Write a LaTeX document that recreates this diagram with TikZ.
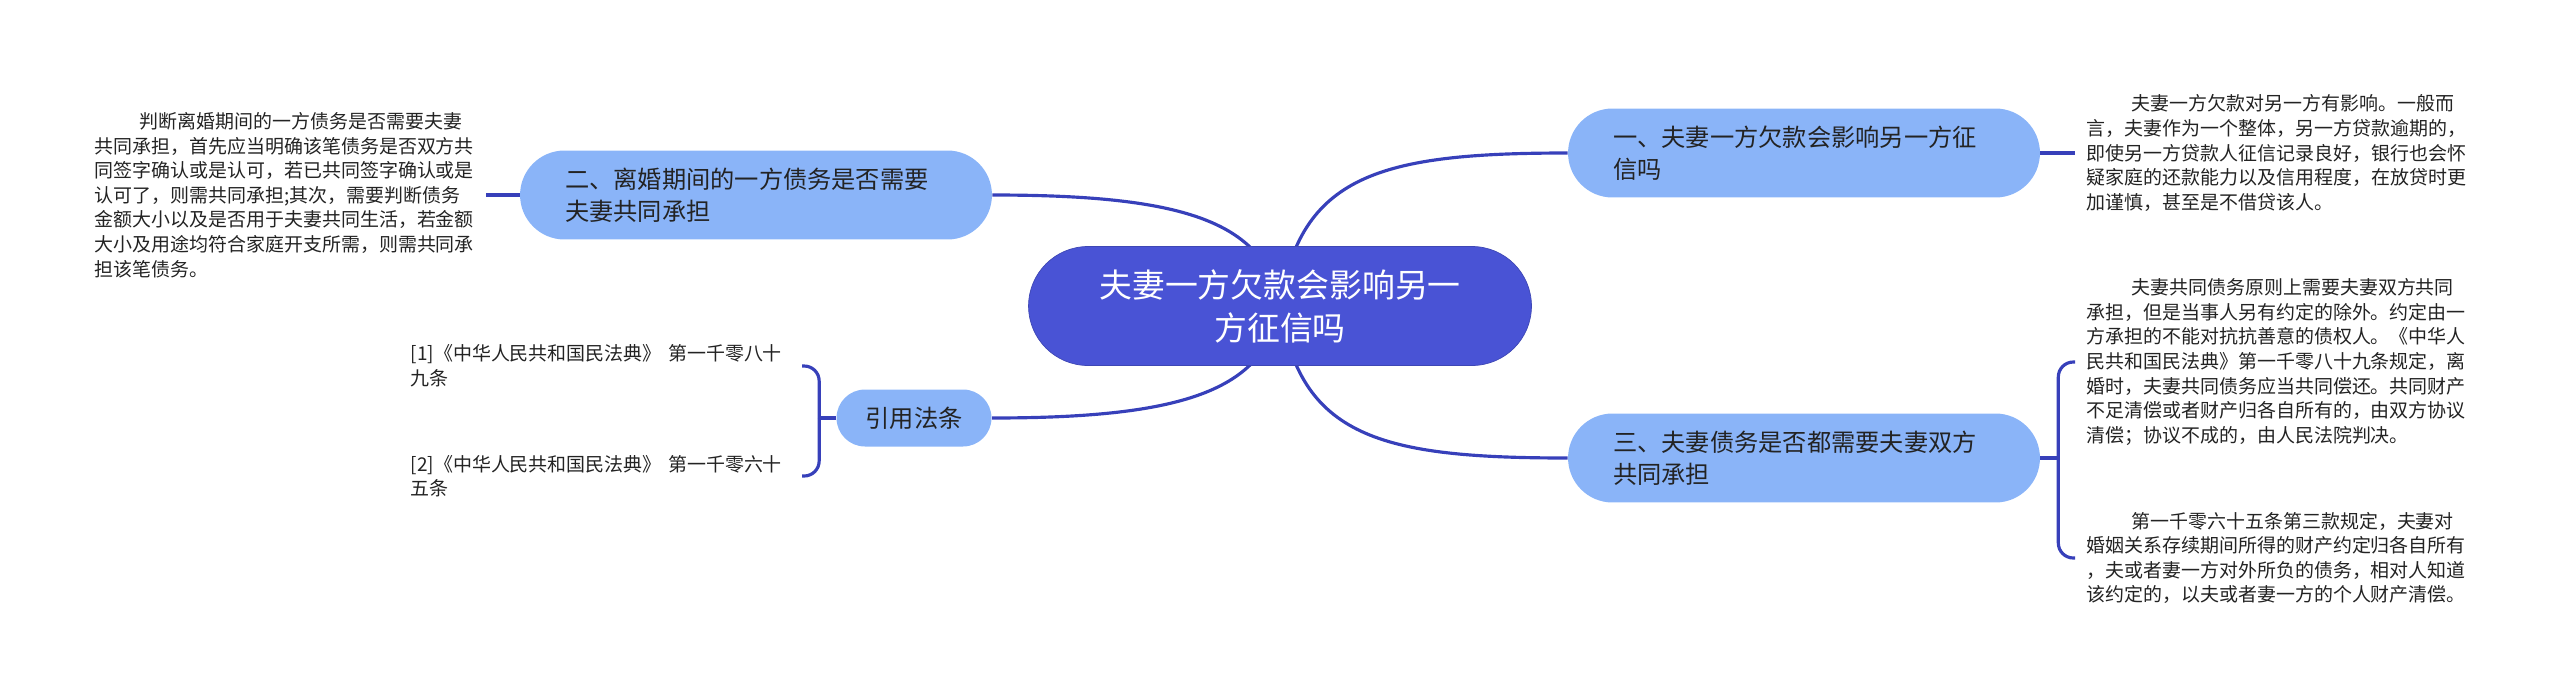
\documentclass[tikz,border=0pt]{standalone}
\usepackage{fontspec}
\newfontfamily\cjk{Noto Sans CJK SC}
\usetikzlibrary{positioning,backgrounds}

\definecolor{raizazul}{RGB}{73,83,213}
\definecolor{ramaazul}{RGB}{138,180,248}
\definecolor{lineaazul}{RGB}{55,64,186}
\definecolor{textogris}{RGB}{35,35,35}

\tikzset{
  raiz/.style={rounded corners=1.19cm, fill=raizazul, draw=raizazul!85!black, line width=0.4pt,
    text=white, align=center, text width=7.3cm, inner xsep=1.38cm, minimum height=2.38cm,
    font=\cjk\fontsize{18.7pt}{24.5pt}\selectfont},
  rama/.style={rounded corners=0.89cm, fill=ramaazul, text=textogris, align=left,
    text width=7.64cm, inner xsep=0.9cm, minimum height=1.78cm,
    font=\cjk\fontsize{13.8pt}{18.2pt}\selectfont},
  ramacorta/.style={rounded corners=0.57cm, fill=ramaazul, text=textogris,
    inner xsep=0.58cm, minimum height=1.14cm, font=\cjk\fontsize{13.8pt}{18.2pt}\selectfont},
  hoja/.style={align=left, text width=7.6cm, inner xsep=0.22cm, text=textogris,
    font=\cjk\fontsize{10.8pt}{14pt}\selectfont},
  enlace/.style={draw=lineaazul, line width=1.8pt},
}

\begin{document}
\begin{tikzpicture}[x=0.02cm, y=-0.02cm]
  \useasboundingbox (0,0) rectangle (2560,697);

  % Nodos principales
  \node[raiz] (raiz) at (1280,306) {夫妻一方欠款会影响另一\\方征信吗};
  \node[rama] (r1) at (1804,153) {一、夫妻一方欠款会影响另一方征\\信吗};
  \node[rama] (r2) at (756,195) {二、离婚期间的一方债务是否需要\\夫妻共同承担};
  \node[rama] (r3) at (1804,458) {三、夫妻债务是否都需要夫妻双方\\共同承担};
  \node[ramacorta] (r4) at (914,418) {引用法条};

  % Hojas
  \node[hoja, right=0.7cm of r1] (h1) {\hspace*{0.9cm}夫妻一方欠款对另一方有影响。一般而\\
    言，夫妻作为一个整体，另一方贷款逾期的，\\
    即使另一方贷款人征信记录良好，银行也会怀\\
    疑家庭的还款能力以及信用程度，在放贷时更\\
    加谨慎，甚至是不借贷该人。};
  \node[hoja, left=0.68cm of r2] (h2) {\hspace*{0.9cm}判断离婚期间的一方债务是否需要夫妻\\
    共同承担，首先应当明确该笔债务是否双方共\\
    同签字确认或是认可，若已共同签字确认或是\\
    认可了，则需共同承担;其次，需要判断债务\\
    金额大小以及是否用于夫妻共同生活，若金额\\
    大小及用途均符合家庭开支所需，则需共同承\\
    担该笔债务。};
  \node[hoja, anchor=west] (h3a) at (2075,362) {\hspace*{0.9cm}夫妻共同债务原则上需要夫妻双方共同\\
    承担，但是当事人另有约定的除外。约定由一\\
    方承担的不能对抗抗善意的债权人。《中华人\\
    民共和国民法典》第一千零八十九条规定，离\\
    婚时，夫妻共同债务应当共同偿还。共同财产\\
    不足清偿或者财产归各自所有的，由双方协议\\
    清偿；协议不成的，由人民法院判决。};
  \node[hoja, anchor=west] (h3b) at (2075,558) {\hspace*{0.9cm}第一千零六十五条第三款规定，夫妻对\\
    婚姻关系存续期间所得的财产约定归各自所有\\
    ，夫或者妻一方对外所负的债务，相对人知道\\
    该约定的，以夫或者妻一方的个人财产清偿。};
  \node[hoja, anchor=east] (h4a) at (802,366) {[1]《中华人民共和国民法典》 第一千零八十\\九条};
  \node[hoja, anchor=east] (h4b) at (802,476) {[2]《中华人民共和国民法典》 第一千零六十\\五条};

  % Enlaces
  \begin{scope}[on background layer]
    \draw[enlace] (raiz.center) .. controls +(20,-131) and +(-188,0) .. (r1.west);
    \draw[enlace] (raiz.center) .. controls +(20,131) and +(-188,0) .. (r3.west);
    \draw[enlace] (raiz.center) .. controls +(-15,-86) and +(188,0) .. (r2.east);
    \draw[enlace] (raiz.center) .. controls +(-15,86) and +(188,0) .. (r4.east);
    \draw[enlace] (r1.east) -- (h1.west);
    \draw[enlace] (r2.west) -- (h2.east);
    % Corchetes
    \draw[enlace] (r3.east) -- ++(18,0) coordinate (c3);
    \draw[enlace, rounded corners=0.3cm] (c3) |- (h3a.west);
    \draw[enlace, rounded corners=0.3cm] (c3) |- (h3b.west);
    \draw[enlace] (r4.west) -- ++(-17,0) coordinate (c4);
    \draw[enlace, rounded corners=0.3cm] (c4) |- (h4a.east);
    \draw[enlace, rounded corners=0.3cm] (c4) |- (h4b.east);
  \end{scope}
\end{tikzpicture}
\end{document}
